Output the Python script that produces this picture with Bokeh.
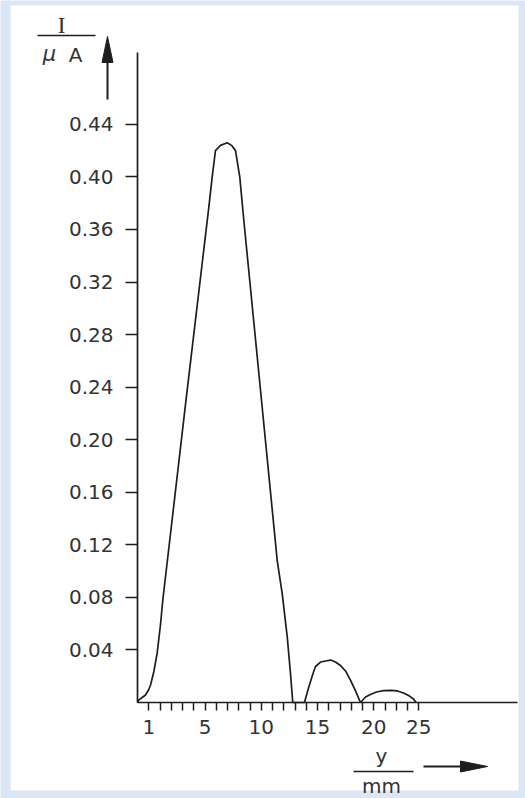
from bokeh.plotting import figure
from bokeh.models import Range1d, FixedTicker, BoxAnnotation
from bokeh.core.properties import value
from bokeh.embed import file_html
from bokeh.resources import INLINE

# ---- data ----
# position along the scale (one tick = one unit), intensity in microampere
pos = [0.0, 0.12, 0.36, 0.71, 0.98, 1.16, 1.45, 1.75, 2.04, 2.25, 4.27, 6.34, 6.64, 6.93, 7.38,
       7.97, 8.36, 8.71, 9.09, 9.45, 10.93, 12.42, 12.86, 13.31, 13.60, 13.80,
       14.84, 15.2, 15.56, 15.82, 16.27, 16.71, 17.16, 17.6, 18.04, 18.49, 18.93, 19.38, 19.82,
       20.27, 20.71, 21.24, 21.87, 22.49, 23.11, 23.64, 24.18, 24.53, 24.76]
current = [0.0, 0.002, 0.0034, 0.0057, 0.0095, 0.0133, 0.0234, 0.0377, 0.059, 0.078, 0.227, 0.377, 0.400, 0.420, 0.424,
           0.426, 0.424, 0.420, 0.400, 0.367, 0.238, 0.108, 0.083, 0.050, 0.022, 0.0,
           0.0, 0.011, 0.021, 0.0274, 0.0308, 0.0316, 0.0323, 0.0308, 0.0282, 0.024, 0.017, 0.0088, 0.0,
           0.0042, 0.0061, 0.008, 0.0091, 0.0093, 0.0088, 0.0072, 0.0049, 0.0027, 0.0]

x_minor_ticks = list(range(1, 26))
x_tick_pos = [1, 6, 11, 16, 21, 25]
x_tick_labels = ["1", "5", "10", "15", "20", "25"]

y_ticks = [0.04, 0.08, 0.12, 0.16, 0.20, 0.24, 0.28, 0.32, 0.36, 0.40, 0.44]
y_tick_labels = ["0.04", "0.08", "0.12", "0.16", "0.20", "0.24", "0.28", "0.32", "0.36", "0.40", "0.44"]

# ---- layout: canvas pixels <-> data units ----
W, H = 525, 798
X0, Y0 = 137, 702          # pixel position of the origin
PX_PER_X = 11.25           # pixels per scale unit
PX_PER_Y = 1314.0          # pixels per microampere
X_END = 517                # right end of the x axis line (px)
Y_TOP = 52                 # top end of the y axis line (px)

def dx(px):
    return (px - X0) / PX_PER_X

def dy(py):
    return (Y0 - py) / PX_PER_Y

FONT = "DejaVu Sans"
INK = "#1e1e1e"
TXT = "#333333"

p = figure(width=W, height=H, output_backend="svg", toolbar_location=None,
           x_range=Range1d(dx(0), dx(W)), y_range=Range1d(dy(H), dy(0)), min_border=0)
p.outline_line_color = None
p.background_fill_color = "#dbe7f5"
p.border_fill_color = "#dbe7f5"
p.grid.visible = False

# white sheet over the light blue background
p.add_layout(BoxAnnotation(left=dx(10), right=dx(518), top=dy(5), bottom=dy(790),
                           fill_color="white", fill_alpha=1.0, line_color=None, level="underlay"))

p.line(pos, current, line_color=INK, line_width=1.7)

# x axis
xa = p.xaxis[0]
xa.fixed_location = 0
xa.bounds = (0, dx(X_END))
xa.ticker = FixedTicker(ticks=x_minor_ticks, minor_ticks=[])
overrides = {t: "" for t in x_minor_ticks}
for t, lab in zip(x_tick_pos, x_tick_labels):
    overrides[t] = lab
xa.major_label_overrides = overrides
xa.major_tick_out = 8
xa.major_tick_in = 0
xa.minor_tick_out = 0
xa.major_tick_line_width = 1.5
xa.major_tick_line_color = INK
xa.axis_line_width = 1.7
xa.axis_line_color = INK
xa.major_label_text_font = FONT
xa.major_label_text_font_size = "20px"
xa.major_label_text_color = TXT
xa.major_label_standoff = 9

# y axis
ya = p.yaxis[0]
ya.fixed_location = 0
ya.bounds = (0, dy(Y_TOP))
ya.ticker = FixedTicker(ticks=y_ticks, minor_ticks=[])
ya.major_label_overrides = dict(zip(y_ticks, y_tick_labels))
ya.major_tick_out = 12
ya.major_tick_in = 0
ya.minor_tick_out = 0
ya.major_tick_line_width = 1.5
ya.major_tick_line_color = INK
ya.axis_line_width = 1.7
ya.axis_line_color = INK
ya.major_label_text_font = FONT
ya.major_label_text_font_size = "20px"
ya.major_label_text_color = TXT
ya.major_label_standoff = 12

# ---- unit labels drawn as fractions, with arrows ----
def txt(s, px, py, font=FONT, size="20px", style="normal"):
    p.text(x=[dx(px)], y=[dy(py)], text=[s], text_font=value(font), text_font_size=value(size),
           text_font_style=style, text_color=TXT, text_align="center", text_baseline="middle")

def seg(px0, py0, px1, py1, w=1.5):
    p.segment(x0=[dx(px0)], y0=[dy(py0)], x1=[dx(px1)], y1=[dy(py1)], line_color=INK, line_width=w)

def head(pts):
    p.patch(x=[dx(a) for a, b in pts], y=[dy(b) for a, b in pts], fill_color=INK, line_color=INK, line_width=1)

# I / uA
txt("I", 61, 25, font="Liberation Serif", size="23px")
seg(37, 35, 95, 35)
txt("μ", 49, 53, size="21px", style="italic")
txt("A", 75, 54, size="20px")
# upward arrow
seg(107, 99, 107, 60, w=2)
head([(107, 36), (101.5, 62), (112.5, 62)])

# y / mm
txt("y", 381, 755)
seg(353, 771, 413, 771)
txt("mm", 381, 785)
# right arrow
seg(423, 766, 462, 766, w=2)
head([(487, 766), (460, 760.5), (460, 771.5)])

open("out.html", "w").write(file_html(p, INLINE))
